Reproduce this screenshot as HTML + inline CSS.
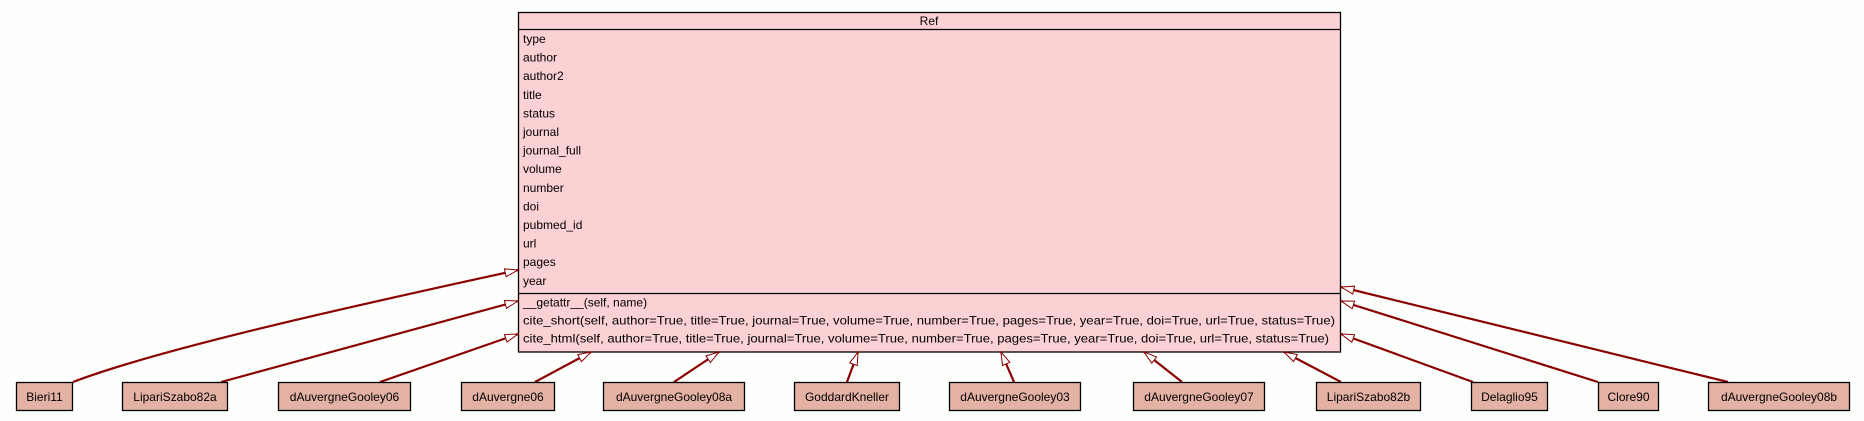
<!DOCTYPE html>
<html><head><meta charset="utf-8"><style>
html,body{margin:0;padding:0;background:#fdfffd;}
svg{display:block;font-family:"Liberation Sans",sans-serif;}
</style></head><body>
<svg width="1864" height="421" viewBox="0 0 1864 421" xmlns="http://www.w3.org/2000/svg">
<defs>
<marker id="a" markerWidth="16" markerHeight="12" refX="14" refY="5" orient="auto" markerUnits="userSpaceOnUse">
<path d="M1,1 L14,5 L1,9 Z" fill="#fff" stroke="#8b0000" stroke-width="1"/>
</marker>
</defs>
<rect x="0" y="0" width="1864" height="421" fill="#fdfffd"/>
<rect x="518.5" y="12.5" width="822" height="339.5" fill="#fcd1d4" stroke="#000" stroke-width="1.3"/>
<line x1="518" y1="29.5" x2="1341" y2="29.5" stroke="#000" stroke-width="1.3"/>
<line x1="518" y1="293.5" x2="1341" y2="293.5" stroke="#000" stroke-width="1.3"/>
<g font-size="12" fill="#000">
<text x="929" y="25" text-anchor="middle">Ref</text>
<text x="523" y="43">type</text>
<text x="523" y="61.6">author</text>
<text x="523" y="80.2">author2</text>
<text x="523" y="98.8">title</text>
<text x="523" y="117.4">status</text>
<text x="523" y="136">journal</text>
<text x="523" y="154.6">journal_full</text>
<text x="523" y="173.2">volume</text>
<text x="523" y="191.8">number</text>
<text x="523" y="210.4">doi</text>
<text x="523" y="229">pubmed_id</text>
<text x="523" y="247.6">url</text>
<text x="523" y="266.2">pages</text>
<text x="523" y="284.8">year</text>
<text x="523" y="306.5">__getattr__(self, name)</text>
<text x="523" y="324.5" textLength="812" lengthAdjust="spacingAndGlyphs">cite_short(self, author=True, title=True, journal=True, volume=True, number=True, pages=True, year=True, doi=True, url=True, status=True)</text>
<text x="523" y="342.5" textLength="806" lengthAdjust="spacingAndGlyphs">cite_html(self, author=True, title=True, journal=True, volume=True, number=True, pages=True, year=True, doi=True, url=True, status=True)</text>
</g>
<g fill="none" stroke="#8b0000" stroke-width="2.2" marker-end="url(#a)">
<path d="M73,382 C170,345 400,296 518,270"/>
<path d="M221,382 L518,301"/>
<path d="M380,382 L518,334"/>
<path d="M535,382 L591,352"/>
<path d="M674,382 L719,352"/>
<path d="M847,382 L858,352"/>
<path d="M1014,382 L1001,352"/>
<path d="M1182,382 L1144,352"/>
<path d="M1341,382 L1284,352"/>
<path d="M1473,382 L1341,334"/>
<path d="M1598,382 L1341,301"/>
<path d="M1728,382 L1341,287"/>
</g>
<g fill="#e4b2a4" stroke="#000" stroke-width="1.3">
<rect x="16.5" y="382.5" width="56" height="28"/>
<rect x="122.5" y="382.5" width="105" height="28"/>
<rect x="278.5" y="382.5" width="132" height="28"/>
<rect x="461.5" y="382.5" width="93" height="28"/>
<rect x="603.5" y="382.5" width="141" height="28"/>
<rect x="794.5" y="382.5" width="105" height="28"/>
<rect x="949.5" y="382.5" width="131" height="28"/>
<rect x="1133.5" y="382.5" width="131" height="28"/>
<rect x="1316.5" y="382.5" width="104" height="28"/>
<rect x="1471.5" y="382.5" width="76" height="28"/>
<rect x="1598.5" y="382.5" width="60" height="28"/>
<rect x="1708.5" y="382.5" width="141" height="28"/>
</g>
<g font-size="12" fill="#000" text-anchor="middle">
<text x="44.5" y="401">Bieri11</text>
<text x="175" y="401">LipariSzabo82a</text>
<text x="344.5" y="401">dAuvergneGooley06</text>
<text x="508" y="401">dAuvergne06</text>
<text x="674" y="401">dAuvergneGooley08a</text>
<text x="847" y="401">GoddardKneller</text>
<text x="1015" y="401">dAuvergneGooley03</text>
<text x="1199" y="401">dAuvergneGooley07</text>
<text x="1368.5" y="401">LipariSzabo82b</text>
<text x="1509.5" y="401">Delaglio95</text>
<text x="1628.5" y="401">Clore90</text>
<text x="1779" y="401">dAuvergneGooley08b</text>
</g>
</svg>
</body></html>
